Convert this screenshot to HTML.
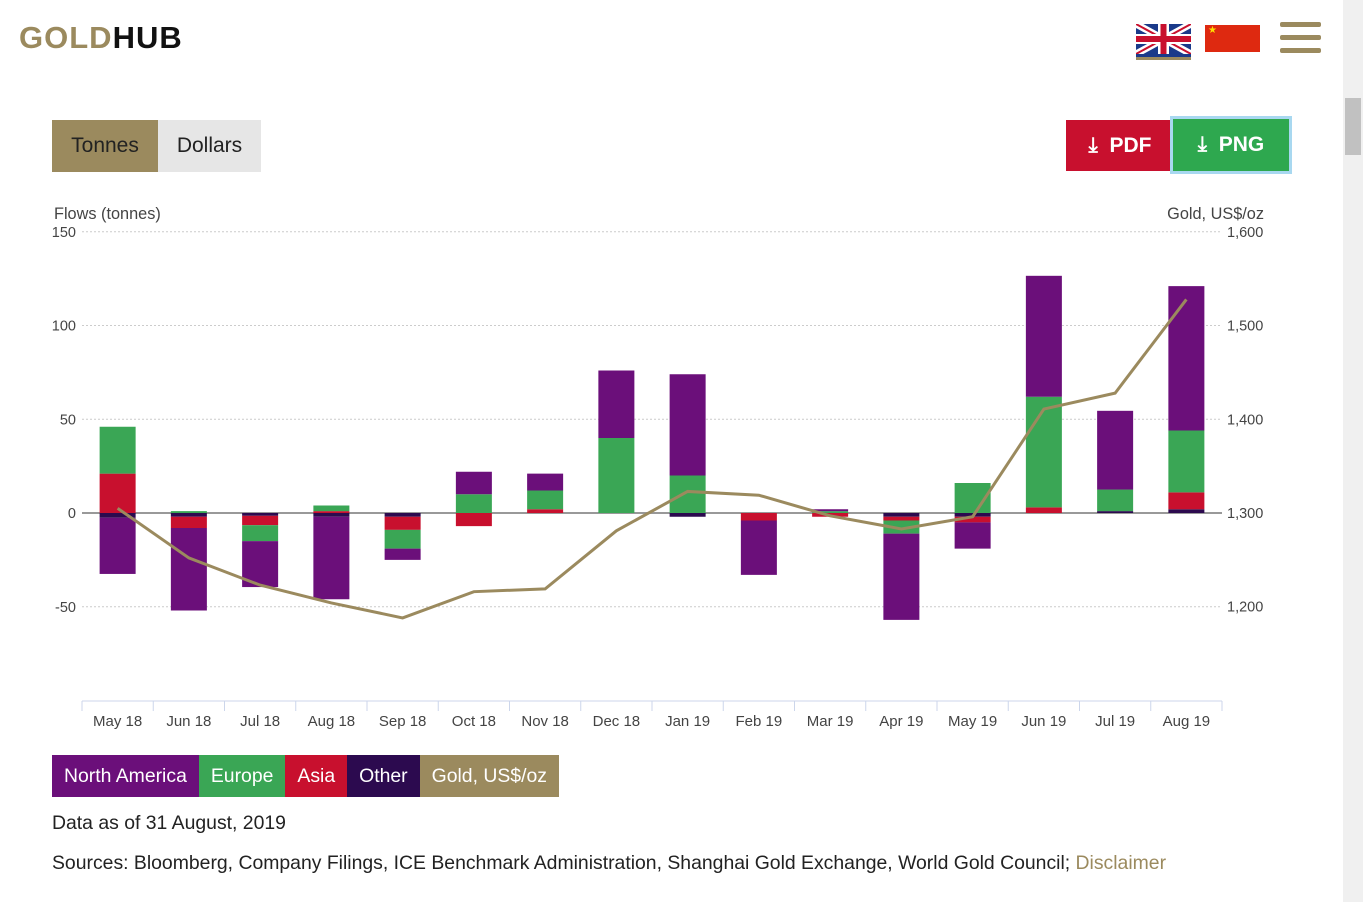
<!DOCTYPE html>
<html><head><meta charset="utf-8"><style>
body{margin:0;width:1363px;height:902px;overflow:hidden;background:#fff;font-family:"Liberation Sans",Arial,sans-serif;position:relative}
.abs{position:absolute}
.btn{position:absolute;font-size:21px;display:flex;align-items:center;justify-content:center}
.leg{display:inline-block;height:42px;line-height:42px;padding:0 12px;color:#fff;font-size:19.4px}
</style></head><body>
<div class="abs" style="left:19px;top:20px;font-size:31px;font-weight:bold;letter-spacing:1px"><span style="color:#9b8a5e">GOLD</span><span style="color:#111">HUB</span></div>
<div class="abs" style="left:1136px;top:24px;width:55px;height:33px;background:#1a3a8a;border-bottom:3px solid #9b8a5e">
<svg width="55" height="30"><line x1="0" y1="0" x2="55" y2="30" stroke="#fff" stroke-width="7"/><line x1="55" y1="0" x2="0" y2="30" stroke="#fff" stroke-width="7"/><line x1="0" y1="0" x2="55" y2="30" stroke="#c8102e" stroke-width="2"/><line x1="55" y1="0" x2="0" y2="30" stroke="#c8102e" stroke-width="2"/><rect x="22" y="0" width="11" height="30" fill="#fff"/><rect x="0" y="10" width="55" height="10" fill="#fff"/><rect x="24.5" y="0" width="6" height="30" fill="#c8102e"/><rect x="0" y="12" width="55" height="6" fill="#c8102e"/></svg></div>
<div class="abs" style="left:1205px;top:25px;width:55px;height:27px;background:#de2910;color:#ffde00;font-size:10px;padding-left:3px;box-sizing:border-box">★</div>
<div class="abs" style="left:1280px;top:22px;width:41px">
<div style="height:5px;background:#9b8a5e;margin-bottom:8px;border-radius:2px"></div><div style="height:5px;background:#9b8a5e;margin-bottom:8px;border-radius:2px"></div><div style="height:5px;background:#9b8a5e;border-radius:2px"></div></div>
<div class="btn" style="left:52px;top:120px;width:106px;height:52px;background:#9b8a5e;color:#222">Tonnes</div>
<div class="btn" style="left:158px;top:120px;width:103px;height:52px;background:#e6e6e6;color:#222">Dollars</div>
<div class="btn" style="left:1066px;top:120px;width:108px;height:51px;background:#c8102e;color:#fff;font-weight:bold">⤓&nbsp; PDF</div>
<div class="btn" style="left:1173px;top:119px;width:116px;height:52px;background:#2ea84f;color:#fff;font-weight:bold;box-shadow:0 0 0 3px #a8d8f0">⤓&nbsp; PNG</div>
<div class="abs" style="left:1343px;top:0;width:20px;height:902px;background:#f0f0f0"><div style="position:absolute;left:2px;top:98px;width:16px;height:57px;background:#c1c1c1"></div></div>
<svg class="abs" style="left:0;top:0" width="1340" height="750" id="chart"></svg>
<div class="abs" style="left:52px;top:755px;display:flex">
<span class="leg" style="background:#6b0f7a">North America</span><span class="leg" style="background:#3aa655">Europe</span><span class="leg" style="background:#c8102e">Asia</span><span class="leg" style="background:#2c0a4f">Other</span><span class="leg" style="background:#9b8a5e">Gold, US$/oz</span></div>
<div class="abs" style="left:52px;top:812px;font-size:19.4px;color:#222">Data as of 31 August, 2019</div>
<div class="abs" style="left:52px;top:852px;font-size:19.4px;color:#222">Sources: Bloomberg, Company Filings, ICE Benchmark Administration, Shanghai Gold Exchange, World Gold Council; <span style="color:#9b8a5e">Disclaimer</span></div>
<script>
const months=["May 18","Jun 18","Jul 18","Aug 18","Sep 18","Oct 18","Nov 18","Dec 18","Jan 19","Feb 19","Mar 19","Apr 19","May 19","Jun 19","Jul 19","Aug 19"];
const northAmerica=[-30,-44,-24.5,-44,-6,12,9,36,54,-29,1,-46,-14,64.5,42,77];
const europe=[25,1,-8.5,3,-10,10,10,40,20,0,1,-7,16,59,11.5,33];
const asia=[21,-6,-5,1,-7,-7,2,0,0,-4,-2,-2,-3,3,0,9];
const other=[-2.5,-2,-1.5,-2,-2,0,0,0,-2,0,0,-2,-2,0,1,2];
const gold=[1305,1252,1223,1204,1188,1216,1219,1281,1323,1319,1297,1283,1296,1411,1428,1528];
const leftTicks=[150,100,50,0,-50];
const rightTicks=["1,600","1,500","1,400","1,300","1,200"];
const rightVals=[1600,1500,1400,1300,1200];
const svg=document.getElementById('chart');const NS='http://www.w3.org/2000/svg';
function mk(t,a,p){const e=document.createElementNS(NS,t);for(const k in a)e.setAttribute(k,a[k]);(p||svg).appendChild(e);return e;}
const x0=82,x1=1222,bw=(x1-x0)/months.length;
const y=v=>513-v*1.875; const yg=v=>513-(v-1300)*0.9367;
const xc=i=>x0+bw*(i+0.5);
leftTicks.forEach((t,i)=>{const g=mk('line',{x1:82,x2:1222,y1:y(t),y2:y(t),stroke:t===0?'#999':'#ccc','stroke-width':t===0?2:1,'stroke-dasharray':t===0?'':'2,2'});

const l=mk('text',{x:76,y:y(t)+5,'text-anchor':'end','font-size':14.5,fill:'#444'});l.textContent=t;
});
rightVals.forEach((v,i)=>{const l=mk('text',{x:1227,y:yg(v)+5,'font-size':14.5,fill:'#444'});l.textContent=rightTicks[i];
});
let t=mk('text',{x:54,y:219,'font-size':16.3,fill:'#444'});t.textContent='Flows (tonnes)';
t=mk('text',{x:1264,y:219,'font-size':16.3,fill:'#444','text-anchor':'end'});t.textContent='Gold, US$/oz';
const series=[[other,'#2c0a4f','other'],[asia,'#c8102e','asia'],[europe,'#3aa655','europe'],[northAmerica,'#6b0f7a','north-america']];
months.forEach((m,i)=>{let pos=0,neg=0;
series.forEach(([arr,c,n])=>{const v=arr[i];if(!v)return;let a,b;
if(v>0){a=pos;b=pos+v;pos=b;}else{a=neg;b=neg+v;neg=b;}
const r=mk('rect',{x:xc(i)-18,width:36,y:Math.min(y(a),y(b)),height:Math.abs(y(a)-y(b)),fill:c});
});
const tk=mk('line',{x1:x0+bw*i,x2:x0+bw*i,y1:701,y2:711,stroke:'#ccd6eb'});
const l=mk('text',{x:xc(i),y:726,'text-anchor':'middle','font-size':15,fill:'#444'});l.textContent=m;
});
const ax=mk('line',{x1:x0,x2:x1,y1:701,y2:701,stroke:'#ccd6eb'});
const ax2=mk('line',{x1:x1,x2:x1,y1:701,y2:711,stroke:'#ccd6eb'});
const pl=mk('polyline',{points:gold.map((v,i)=>xc(i)+','+yg(v)).join(' '),fill:'none',stroke:'#9b8a5e','stroke-width':3});

</script>
</body></html>
